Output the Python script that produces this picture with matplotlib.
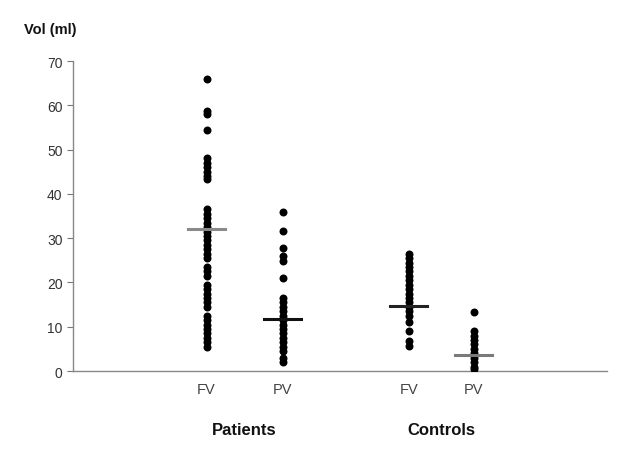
import matplotlib
matplotlib.use('Agg')
import matplotlib.pyplot as plt

plt.rcParams['font.family'] = ['Liberation Sans', 'DejaVu Sans']

# Values (ml)
patients_fv = [66, 58.8, 58, 54.5, 48, 47, 46, 45, 44, 43.3,
               36.5, 35.5, 34.5, 33.5, 32.5, 31.5, 30.5, 29.5, 28.5, 27.5,
               26.5, 25.5, 23.5, 22.5, 21.5, 19.5, 18.5, 17.5, 16.5, 15.5,
               14.5, 12.5, 11.5, 10.5, 9.5, 8.5, 7.5, 6.5, 5.5]
patients_pv = [36, 31.7, 27.7, 26, 24.9, 21, 16.5, 15.5, 14.5, 13.5,
               12.5, 11.5, 10.5, 9.5, 8.5, 7.5, 6.5, 5.5, 4.5, 3, 2]
controls_fv = [26.5, 25.5, 24.5, 23.5, 22.5, 21.5, 20.5, 19.5, 18.5, 17.5,
               16.5, 15.5, 14.5, 13.5, 12.5, 11, 9, 6.8, 5.7]
controls_pv = [13.4, 9, 8, 7, 6, 5, 4, 3, 2, 1, 0.4]

series = [patients_fv, patients_pv, controls_fv, controls_pv]
means = [32, 11.7, 14.7, 3.6]
mean_colors = ['#8a8a8a', '#111111', '#222222', '#7a7a7a']
sub_labels = ['FV', 'PV', 'FV', 'PV']
groups = ['Patients', 'Controls']

positions = [1.75, 2.75, 4.4, 5.25]

fig = plt.figure(figsize=(6.31, 4.60), dpi=100)
ax = fig.add_axes([0.1157, 0.1913, 0.8463, 0.6737])

for x, vals, m, c in zip(positions, series, means, mean_colors):
    ax.scatter([x] * len(vals), vals, s=33, color='black', zorder=3,
               linewidths=0)
    ax.plot([x - 0.24, x + 0.24], [m, m], color=c, lw=2.2, zorder=4)

ax.set_xlim(0, 7)
ax.set_ylim(0, 70)
ax.set_yticks(range(0, 71, 10))
ax.set_xticks([])
ax.tick_params(axis='y', length=4, color='#777777', labelcolor='#333333',
               labelsize=10, direction='out')

for s in ['top', 'right']:
    ax.spines[s].set_visible(False)
for s in ['left', 'bottom']:
    ax.spines[s].set_color('#888888')
    ax.spines[s].set_linewidth(1)

# sub labels and group labels
for x, lab in zip(positions, sub_labels):
    ax.text(x, -4, lab, ha='center', va='center', fontsize=10.5,
            color='#444444', clip_on=False)
group_x = [(positions[0] + positions[1]) / 2, (positions[2] + positions[3]) / 2]
for x, g in zip(group_x, groups):
    ax.text(x, -13.2, g, ha='center', va='center', fontsize=12,
            fontweight='bold', color='#111111', clip_on=False)

fig.text(0.08, 0.935, 'Vol (ml)', ha='center', va='center', fontsize=10.5,
         fontweight='bold', color='#111111')

fig.savefig('out.png', dpi=100)
